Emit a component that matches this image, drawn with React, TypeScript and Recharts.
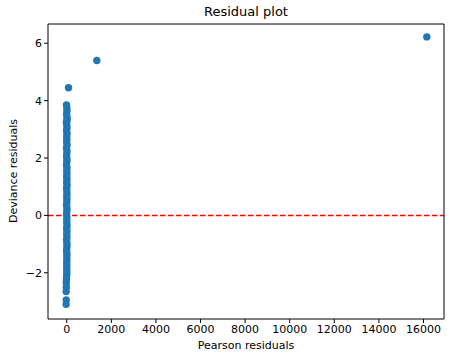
import React from "react";
import { ScatterChart, Scatter, XAxis, YAxis, ReferenceLine } from "recharts";

// Pearson residuals (x) and deviance residuals (y)
const pearsonResiduals = [
  16150, 1350, 80,
  -10, 5, 12, -5, 8, 20, -15, 3, 10, -8, 15, 0, 6, -3, 18, -12, 9, 2,
  -6, 14, 4, -9, 11, 1, 7, -2, 13, -4, 16, -7, 5, 10, -1, 8, 3, -11, 12,
  6, -5, 9, 0, 4, 15, -3, 7, 2, 11, -8, 5, 13, 1, -6, 10, 3, 8, -2, 6,
  0, 4, 2, -10, -12, -20, -18, -25, -22, -28, 5,
];
const devianceResiduals = [
  6.22, 5.4, 4.45,
  3.85, 3.75, 3.65, 3.55, 3.45, 3.35, 3.25, 3.15, 3.05, 2.95, 2.85, 2.75, 2.65, 2.55, 2.45, 2.35, 2.25,
  2.15, 2.05, 1.95, 1.85, 1.75, 1.65, 1.55, 1.45, 1.35, 1.25, 1.15, 1.05, 0.95, 0.85, 0.75, 0.65, 0.55, 0.45, 0.35,
  0.25, 0.15, 0.05, -0.05, -0.15, -0.25, -0.35, -0.45, -0.55, -0.65, -0.75, -0.85, -0.95, -1.05, -1.15, -1.25, -1.35, -1.45, -1.55, -1.65,
  -1.75, -1.85, -1.95, -2.05, -2.15, -2.25, -2.35, -2.5, -2.65, -2.95, -3.1, 3.3,
];
const xTicks = [0, 2000, 4000, 6000, 8000, 10000, 12000, 14000, 16000];
const yTicks = [-2, 0, 2, 4, 6];
const xDomain = [-840, 16920];
const yDomain = [-3.61, 6.67];

const points = pearsonResiduals.map((x, i) => ({ x, y: devianceResiduals[i] }));

const font = "DejaVu Sans, sans-serif";

export default function App() {
  return (
    <div style={{ position: "absolute", left: 0, top: 0, width: 452, height: 362, background: "#fff", fontFamily: font }}>
      <div style={{ position: "absolute", left: 48, width: 396, top: 4, textAlign: "center", fontSize: 13, color: "#000" }}>
        Residual plot
      </div>
      <div style={{ position: "absolute", left: 48, width: 396, top: 339, textAlign: "center", fontSize: 11, color: "#000" }}>
        Pearson residuals
      </div>
      <div
        style={{
          position: "absolute",
          left: 13,
          top: 171,
          transform: "translate(-50%, -50%) rotate(-90deg)",
          whiteSpace: "nowrap",
          fontSize: 11,
          color: "#000",
        }}
      >
        Deviance residuals
      </div>
      <ScatterChart width={452} height={362} margin={{ top: 24, right: 8, bottom: 13, left: 8 }}>
        <XAxis
          type="number"
          dataKey="x"
          domain={xDomain}
          ticks={xTicks}
          allowDataOverflow
          height={30}
          stroke="#000"
          tickSize={4}
          tick={{ fill: "#000", fontSize: 11, fontFamily: font }}
          tickLine={{ stroke: "#000" }}
        />
        <YAxis
          type="number"
          dataKey="y"
          domain={yDomain}
          ticks={yTicks}
          allowDataOverflow
          width={40}
          stroke="#000"
          tickSize={4}
          tick={{ fill: "#000", fontSize: 11, fontFamily: font }}
          tickLine={{ stroke: "#000" }}
          tickFormatter={(v: number) => (v < 0 ? "\u2212" + Math.abs(v) : String(v))}
        />
        <Scatter
          data={points}
          fill="#1f77b4"
          isAnimationActive={false}
          shape={(p: any) => <circle cx={p.cx} cy={p.cy} r={3.7} fill="#1f77b4" />}
        />
        <ReferenceLine y={0} stroke="#ff0000" strokeWidth={1.5} strokeDasharray="5.5 2.5" />
        <ReferenceLine y={yDomain[1]} stroke="#000" strokeWidth={1} />
        <ReferenceLine x={xDomain[1]} stroke="#000" strokeWidth={1} />
      </ScatterChart>
    </div>
  );
}
